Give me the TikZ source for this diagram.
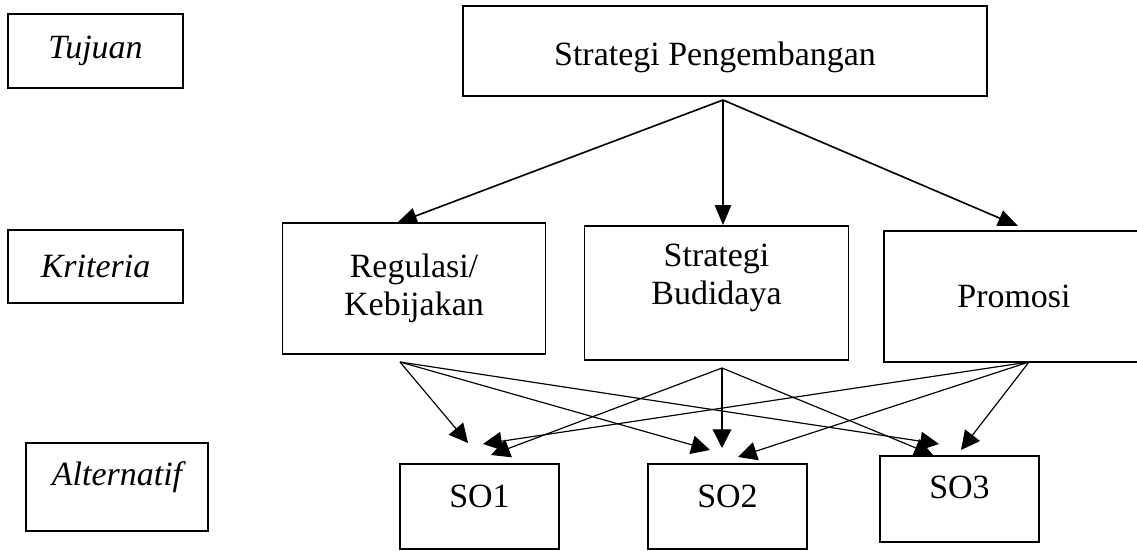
\documentclass[tikz,border=0pt]{standalone}
\usepackage{fontspec}
\setmainfont{Liberation Serif}
\usetikzlibrary{arrows.meta}
\begin{document}
\begin{tikzpicture}[
    x=0.03cm, y=-0.03cm,
    box/.style    = {draw, line width=1.1pt, align=center, inner sep=0pt,
                     font=\fontsize{29}{32}\selectfont},
    lvlbox/.style = {box, font=\fontsize{29}{32}\selectfont\itshape},
    critbox/.style = {box, minimum width=7.9cm, minimum height=3.95cm},
    altbox/.style = {box, minimum width=4.77cm, minimum height=2.55cm},
    lifted/.style = {text depth=#1},
    arr/.style    = {-{Triangle[length=17pt,width=14pt]}, line width=1.4pt},
    subarr/.style = {-{Triangle[length=16pt,width=16pt]}, line width=1pt}
  ]
  \useasboundingbox (0,0) rectangle (1137,550);

  %% level labels
  \node[lvlbox, minimum width=5.25cm, minimum height=2.22cm] (tuj) at (95.5,51) {Tujuan};
  \node[lvlbox, minimum width=5.25cm, minimum height=2.19cm] (kri) at (95.5,266.5) {Kriteria};
  \node[lvlbox, minimum width=5.46cm, minimum height=2.64cm, lifted=0.79cm] (alt) at (117,487) {Alternatif};

  %% goal
  \node[box, minimum width=15.72cm, minimum height=2.7cm, text height=1.09cm] (goal) at (725,51)
       {Strategi Pengembangan\hspace{0.6cm}};

  %% criteria
  \node[critbox, minimum height=3.93cm] (reg) at (414,288.5) {Regulasi/\\Kebijakan};
  \node[critbox, minimum height=4.02cm, lifted=1.12cm] (bud) at (716.5,293) {Strategi\\Budidaya};
  \node[critbox, minimum width=7.8cm, minimum height=3.93cm] (prom) at (1014,296.5) {Promosi};

  %% alternatives
  \node[altbox, lifted=0.63cm] (so1) at (479.5,506.5) {SO1};
  \node[altbox, lifted=0.63cm] (so2) at (727.5,506.5) {SO2};
  \node[altbox, minimum height=2.58cm, lifted=0.69cm] (so3) at (959.5,499) {SO3};

  %% connector ends
  \coordinate (goalout) at (723,100);
  \coordinate (regin)   at (397,223);
  \coordinate (budin)   at (723,225);
  \coordinate (promin)  at (1018,226);
  \coordinate (regout)  at (400,362);
  \coordinate (budout)  at (722,368);
  \coordinate (promout) at (1029,362);
  \coordinate (soa1) at (468,443);
  \coordinate (soa2) at (483,444);
  \coordinate (soa3) at (491,455);
  \coordinate (sob1) at (710,450);
  \coordinate (sob2) at (722,448);
  \coordinate (sob3) at (738,457);
  \coordinate (soc1) at (939,444);
  \coordinate (soc2) at (933,455);
  \coordinate (soc3) at (961,450);

  %% goal -> criteria
  \draw[arr] (goalout) -- (regin);
  \draw[arr] (goalout) -- (budin);
  \draw[arr] (goalout) -- (promin);

  %% criteria -> alternatives
  \draw[subarr] (regout) -- (soa1);
  \draw[subarr] (regout) -- (sob1);
  \draw[subarr] (regout) -- (soc1);
  \draw[subarr] (budout) -- (soa3);
  \draw[subarr] (budout) -- (sob2);
  \draw[subarr] (budout) -- (soc2);
  \draw[subarr] (promout) -- (soa2);
  \draw[subarr] (promout) -- (sob3);
  \draw[subarr] (promout) -- (soc3);

\end{tikzpicture}
\end{document}
